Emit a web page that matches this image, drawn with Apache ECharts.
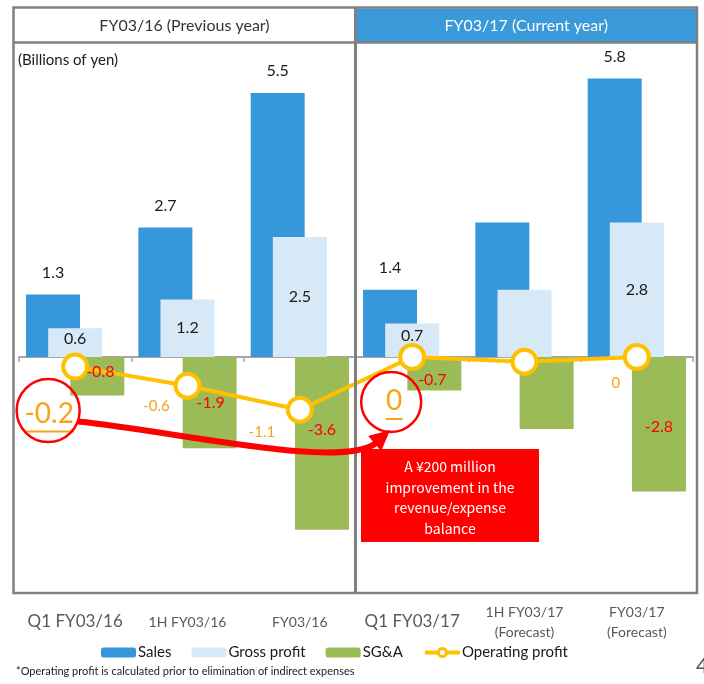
<!DOCTYPE html>
<html>
<head>
<meta charset="utf-8">
<title>Operating results</title>
<script src="https://cdn.jsdelivr.net/npm/echarts@6/dist/echarts.min.js"></script>
<style>
  html, body { margin: 0; padding: 0; background: #ffffff; }
  #chart { width: 704px; height: 684px; }
</style>
</head>
<body>
<div id="chart"></div>
<script>
// Periods shown on the horizontal axis
const categories = ['Q1 FY03/16', '1H FY03/16', 'FY03/16', 'Q1 FY03/17', '1H FY03/17\n(Forecast)', 'FY03/17\n(Forecast)'];

// Billions of yen
const sales = [1.3, 2.7, 5.5, 1.4, 2.8, 5.8];
const grossProfit = [0.6, 1.2, 2.5, 0.7, 1.4, 2.8];
const sga = [-0.8, -1.9, -3.6, -0.7, -1.5, -2.8];
const operatingProfit = [-0.2, -0.6, -1.1, 0, -0.1, 0];

const panelTitles = ['FY03/16 (Previous year)', 'FY03/17 (Current year)'];
const unitNote = '(Billions of yen)';
const footnote = '*Operating profit is calculated prior to elimination of indirect expenses';
const calloutLines = ['A \u00a5200 million', 'improvement in the', 'revenue/expense', 'balance'];

const FONT = 'Lato, "Noto Sans", sans-serif';
const C = {
  sales: '#3698db', gross: '#d7e9f7', sga: '#9bbb59', op: '#ffc000',
  opText: '#f5a31a', red: '#ff0000', frame: '#808080', axis: '#a6a6a6', text: '#1a1a1a'
};

// Which points carry a value label, and small nudges for a few of them
const salesLabelOn = [true, true, true, true, false, true];
const grossLabelOn = [true, true, true, true, false, true];
const sgaLabelOn = [true, true, true, true, false, true];
const grossNudge = [[0, -4], [0, 0], [0, 0], [0, -4], [0, 0], [0, 0]];
const sgaNudge = [[3, -4], [1, 0], [0, -14], [-2, 6], [0, 0], [0, 3]];
// operating profit labels: 'big' ones are circled and underlined
const opLabel = [
  { show: true, big: 'u1', offset: [-26, 50] },
  { show: true, offset: [-31, 20] },
  { show: true, offset: [-38, 22] },
  { show: true, big: 'u2', offset: [-18, 47] },
  { show: false, offset: [0, 0] },
  { show: true, offset: [-21, 26] }
];

const fmt = v => (v === 0 ? '0' : v.toFixed(1));

const chart = echarts.init(document.getElementById('chart'), null, { renderer: 'canvas' });

const catData = categories.map((c, i) => ({
  value: c,
  textStyle: c.indexOf('\n') < 0
    ? { fontSize: (i === 0 || i === 3) ? 17 : 14, lineHeight: 20, padding: [10, 0, 0, 0] }
    : { fontSize: 14, lineHeight: 20 }
}));

const BAR = { type: 'bar', barWidth: 54, barGap: '-59%' };

// SG&A value labels sit above the operating-profit line, so they are carried by
// a transparent copy of the bar group on the second (label) axis.
const ghost = (vals, withLabels) => Object.assign({}, BAR, {
  xAxisIndex: 1, z: 8, silent: true,
  itemStyle: { color: 'rgba(0,0,0,0)' },
  data: vals.map((v, i) => ({
    value: v,
    label: { show: withLabels && sgaLabelOn[i], offset: sgaNudge[i] }
  })),
  label: {
    position: 'inside', color: C.red, fontSize: 16, fontFamily: FONT,
    formatter: p => fmt(p.value)
  }
});

const option = {
  animation: false,
  backgroundColor: '#ffffff',
  textStyle: { fontFamily: FONT },
  grid: { left: 19, right: 11, top: 45, bottom: 111, containLabel: false, outerBoundsMode: 'none' },
  xAxis: [
    {
      // zero baseline with boundary ticks
      type: 'category',
      data: catData,
      axisLine: { onZero: true, lineStyle: { color: C.axis, width: 2 } },
      axisTick: { show: true, length: 5, lineStyle: { color: C.axis, width: 1.5 } },
      axisLabel: { show: false },
      splitLine: { show: false }
    },
    {
      // period names along the bottom
      type: 'category',
      data: catData,
      position: 'bottom',
      axisLine: { show: false, onZero: false },
      axisTick: { show: false },
      axisLabel: {
        interval: 0, margin: 29, color: '#595959', fontFamily: FONT,
        verticalAlign: 'top', align: 'center', hideOverlap: false
      },
      splitLine: { show: false }
    }
  ],
  yAxis: {
    type: 'value', min: -4.5, max: 6.5, show: false, splitLine: { show: false }
  },
  legend: {
    data: ['Sales', 'Gross profit', 'SG&A', {
      name: 'Operating profit',
      lineStyle: { width: 4 },
      itemStyle: { borderWidth: 3 }
    }],
    left: 96, top: 640, itemWidth: 35, itemHeight: 10, itemGap: 20,
    textStyle: { fontSize: 15, color: C.text, fontFamily: FONT, padding: [0, 0, 0, -3] }
  },
  series: [
    Object.assign({}, BAR, {
      name: 'Sales',
      itemStyle: { color: C.sales },
      data: sales.map((v, i) => ({ value: v, label: { show: salesLabelOn[i] } })),
      label: {
        position: 'top', distance: 14, color: C.text, fontSize: 16, fontFamily: FONT,
        formatter: p => fmt(p.value)
      }
    }),
    Object.assign({}, BAR, {
      name: 'Gross profit',
      itemStyle: { color: C.gross },
      data: grossProfit.map((v, i) => ({
        value: v,
        label: { show: grossLabelOn[i], offset: grossNudge[i] }
      })),
      label: {
        position: 'inside', color: C.text, fontSize: 16, fontFamily: FONT,
        formatter: p => fmt(p.value)
      }
    }),
    Object.assign({}, BAR, {
      name: 'SG&A',
      itemStyle: { color: C.sga },
      data: sga
    }),
    {
      name: 'Operating profit', type: 'line', z: 5,
      symbol: 'circle', symbolSize: 24,
      lineStyle: { color: C.op, width: 4 },
      itemStyle: { color: '#ffffff', borderColor: C.op, borderWidth: 4 },
      data: operatingProfit.map((v, i) => {
        const L = opLabel[i];
        const label = { show: L.show, offset: L.offset, position: 'inside' };
        if (L.big) {
          label.formatter = p => '{v|' + fmt(p.value) + '}\n{' + L.big + '| }';
        }
        return { value: v, label };
      }),
      label: {
        color: C.opText, fontSize: 15, fontFamily: FONT,
        formatter: p => fmt(p.value),
        rich: {
          v: { fontSize: 28, color: C.opText, fontFamily: FONT, lineHeight: 30, align: 'center' },
          u1: { width: 50, height: 2, lineHeight: 6, backgroundColor: C.opText, align: 'center' },
          u2: { width: 17, height: 2, lineHeight: 6, backgroundColor: C.opText, align: 'center' }
        }
      }
    },
    ghost(sales, false),
    ghost(grossProfit, false),
    ghost(sga, true)
  ]
};

chart.setOption(option);

// Frame, panel headers and the callout drawn on top of the plot
const pt = (i, v) => chart.convertToPixel({ xAxisIndex: 0, yAxisIndex: 0 }, [i, v]);
const a = pt(0, operatingProfit[0]);
const b = pt(3, operatingProfit[3]);
const ring1 = [a[0] - 27, a[1] + 44];
const ring2 = [b[0] - 21, b[1] + 45];

const frameTop = 7.5, frameBottom = 593, frameLeft = 13.5, frameRight = 697, headerBottom = 42.5, divider = 355.5;

const graphics = [
  { type: 'rect', z: 0, shape: { x: divider + 1.5, y: frameTop + 1, width: frameRight - divider - 2.5, height: headerBottom - frameTop - 1.5 }, style: { fill: '#3a99d9' } },
  { type: 'rect', z: 100, shape: { x: frameLeft, y: frameTop, width: frameRight - frameLeft, height: frameBottom - frameTop }, style: { fill: null, stroke: C.frame, lineWidth: 2.5 } },
  { type: 'line', z: 100, shape: { x1: frameLeft, y1: headerBottom, x2: frameRight, y2: headerBottom }, style: { stroke: C.frame, lineWidth: 2.5 } },
  { type: 'line', z: 100, shape: { x1: divider, y1: frameTop, x2: divider, y2: frameBottom }, style: { stroke: C.frame, lineWidth: 3 } },
  { type: 'text', z: 100, x: (frameLeft + divider) / 2, y: 26, style: { text: panelTitles[0], fontSize: 16, fontFamily: FONT, fill: '#333333', align: 'center', verticalAlign: 'middle' } },
  { type: 'text', z: 100, x: (divider + frameRight) / 2, y: 26, style: { text: panelTitles[1], fontSize: 16, fontFamily: FONT, fill: '#ffffff', align: 'center', verticalAlign: 'middle' } },
  { type: 'text', z: 100, x: 18, y: 60, style: { text: unitNote, fontSize: 15, fontFamily: FONT, fill: C.text, align: 'left', verticalAlign: 'middle' } },
  { type: 'text', z: 100, x: 16, y: 671, style: { text: footnote, fontSize: 11, fontFamily: FONT, fill: C.text, align: 'left', verticalAlign: 'middle' } },
  { type: 'text', z: 100, x: 696, y: 666, style: { text: '4', fontSize: 21, fontFamily: FONT, fill: '#555555', align: 'left', verticalAlign: 'middle' } },
  // circled highlights
  { type: 'circle', z: 110, shape: { cx: ring1[0], cy: ring1[1], r: 31.5 }, style: { fill: null, stroke: C.red, lineWidth: 2.5 } },
  { type: 'circle', z: 110, shape: { cx: ring2[0], cy: ring2[1], r: 30 }, style: { fill: null, stroke: C.red, lineWidth: 2.5 } },
  // curved arrow from one highlight to the other
  { type: 'bezierCurve', z: 110, shape: {
      x1: ring1[0] + 30, y1: ring1[1] + 11,
      cpx1: 180, cpy1: 432, cpx2: 340, cpy2: 470,
      x2: ring2[0] - 15, y2: ring2[1] + 41 }, style: { fill: null, stroke: C.red, lineWidth: 6 } },
  { type: 'polygon', z: 111, shape: { points: [[ring2[0] - 1, ring2[1] + 28], [ring2[0] - 23, ring2[1] + 34], [ring2[0] - 10, ring2[1] + 49]] }, style: { fill: C.red } },
  // callout box
  { type: 'rect', z: 110, shape: { x: 361, y: 449, width: 178, height: 93 }, style: { fill: C.red } }
];
calloutLines.forEach((t, i) => {
  graphics.push({ type: 'text', z: 111, x: 450, y: 467 + i * 20.5, style: { text: t, fontSize: 14, fontFamily: '"Noto Sans CJK JP", ' + FONT, fill: '#ffffff', align: 'center', verticalAlign: 'middle' } });
});

chart.setOption({ graphic: graphics });
</script>
</body>
</html>
